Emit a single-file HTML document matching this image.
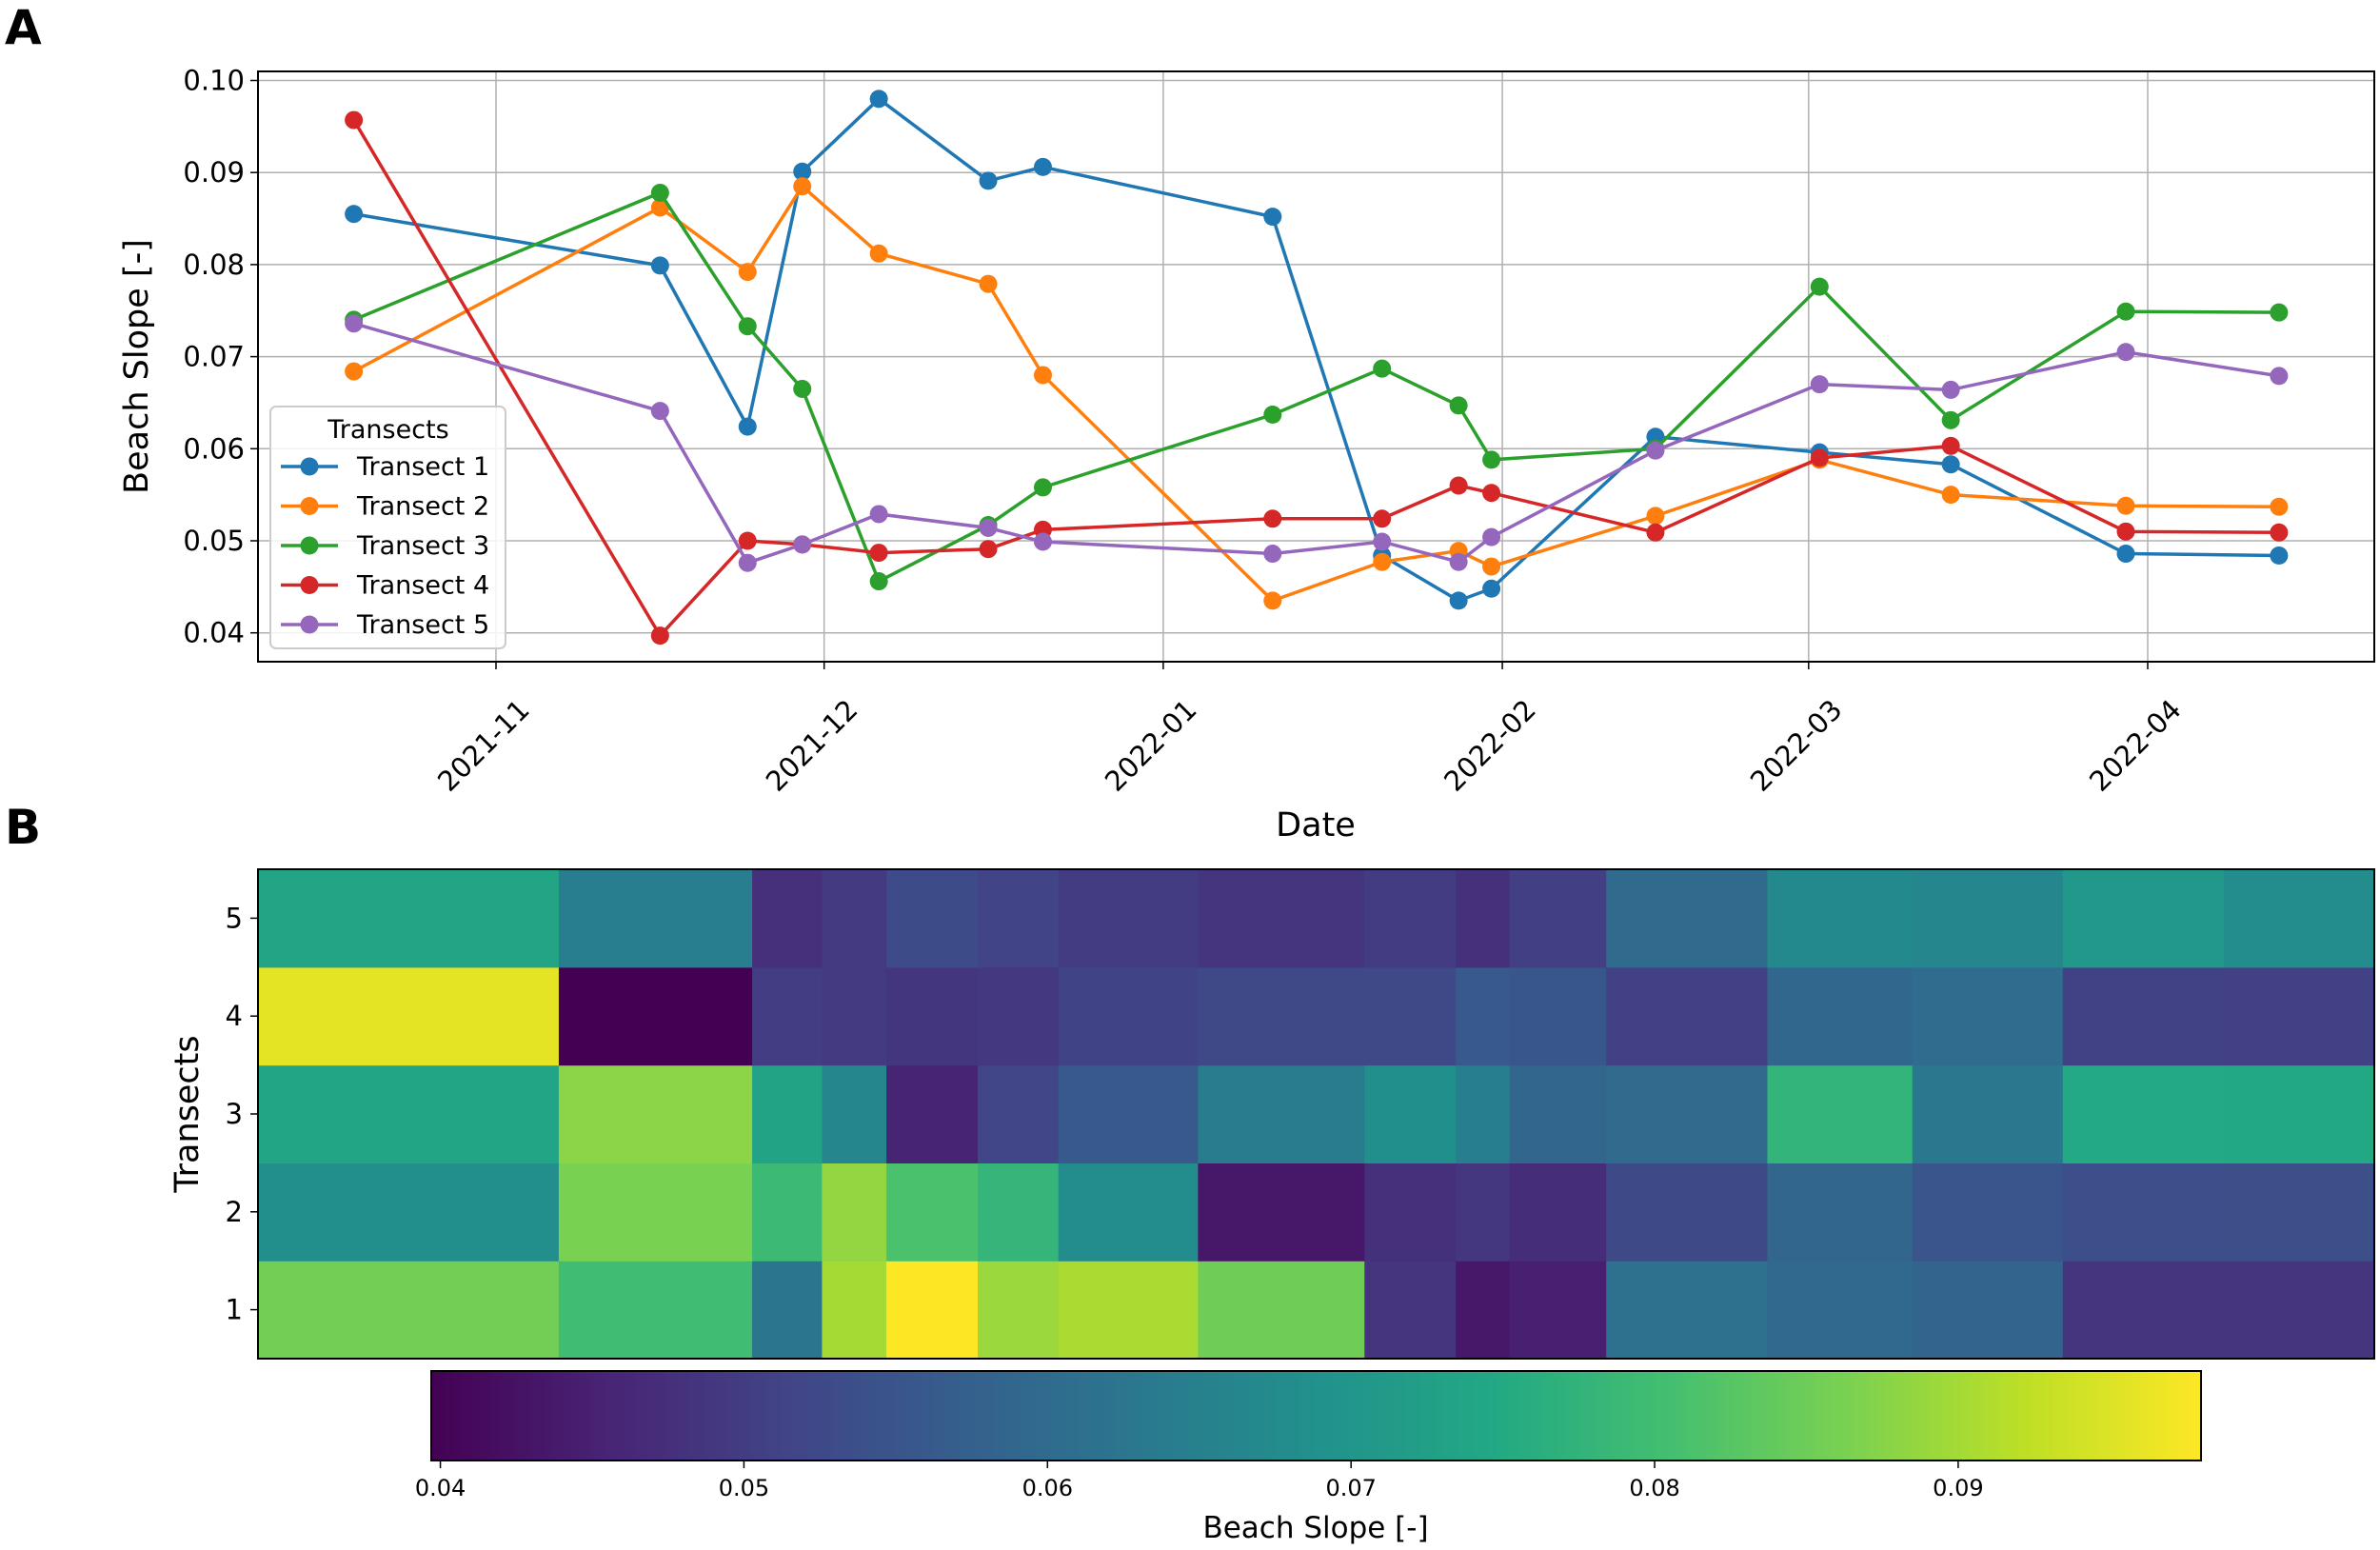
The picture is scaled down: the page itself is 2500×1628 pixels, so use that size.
<!DOCTYPE html>
<html><head><meta charset="utf-8"><style>
body{margin:0;background:#fff}
svg{display:block;font-family:"DejaVu Sans","Liberation Sans",sans-serif}
</style></head><body>
<svg id="chart" width="2500" height="1628" viewBox="0 0 2500 1628">
<g id="gA"></g>
<g id="gB"></g>
</svg>
<script>
const dates = ["2021-10-19","2021-11-16","2021-11-24","2021-11-29","2021-12-06","2021-12-16","2021-12-21","2022-01-11","2022-01-21","2022-01-28","2022-01-31","2022-02-15","2022-03-02","2022-03-14","2022-03-30","2022-04-13"];
const t1 = [0.0855,0.0799,0.0624,0.0901,0.0980,0.0891,0.0906,0.0852,0.0484,0.0435,0.0448,0.0613,0.0596,0.0583,0.0486,0.0484];
const t2 = [0.0684,0.0862,0.0792,0.0885,0.0812,0.0779,0.0680,0.0435,0.0477,0.0489,0.0472,0.0527,0.0588,0.0550,0.0538,0.0537];
const t3 = [0.0740,0.0878,0.0733,0.0665,0.0456,0.0517,0.0558,0.0637,0.0687,0.0647,0.0588,0.0600,0.0776,0.0631,0.0749,0.0748];
const t4 = [0.0957,0.0397,0.0500,0.0496,0.0487,0.0491,0.0512,0.0524,0.0524,0.0560,0.0552,0.0509,0.0590,0.0603,0.0510,0.0509];
const t5 = [0.0736,0.0641,0.0476,0.0496,0.0529,0.0514,0.0499,0.0486,0.0499,0.0477,0.0504,0.0598,0.0670,0.0664,0.0705,0.0679];
const seriesNames = ["Transect 1","Transect 2","Transect 3","Transect 4","Transect 5"];
const yTicks = [0.04,0.05,0.06,0.07,0.08,0.09,0.10];
const xTicks = ["2021-11-01","2021-12-01","2022-01-01","2022-02-01","2022-03-01","2022-04-01"];
const cbTicks = [0.04,0.05,0.06,0.07,0.08,0.09];
const rowLabels = ["1","2","3","4","5"];

const NS="http://www.w3.org/2000/svg";
function mk(tag,attrs,parent){const e=document.createElementNS(NS,tag);for(const k in attrs)e.setAttribute(k,attrs[k]);parent.appendChild(e);return e;}
const colors=["#1f77b4","#ff7f0e","#2ca02c","#d62728","#9467bd"];
const series=[t1,t2,t3,t4,t5];
const day=s=>Date.parse(s+"T00:00:00Z")/86400000;
const d0=day("2021-11-01");
const xA=s=>521+(day(s)-d0)*11.49;
const yA=v=>664.7-(v-0.04)*9670;
const gA=document.getElementById('gA'), gB=document.getElementById('gB'), svg=document.getElementById('chart');
const L=271,R=2494,T=75,B=695;

let t=mk('text',{x:5,y:46,'font-size':50,'font-weight':'bold'},svg);t.textContent="A";


t=mk('text',{x:5,y:886,'font-size':50,'font-weight':'bold'},svg);t.textContent="B";



yTicks.forEach(v=>{const y=yA(v);
 let g=mk('line',{x1:L,x2:R,y1:y,y2:y,stroke:'#b0b0b0','stroke-width':1.5},gA);
 
 
 mk('line',{x1:L-8,x2:L,y1:y,y2:y,stroke:'#000','stroke-width':1.5},gA);
 let tx=mk('text',{x:L-14,y:y+10,'font-size':29,'text-anchor':'end'},gA);tx.textContent=v.toFixed(2);
 
 
});
xTicks.forEach((s,i)=>{const x=xA(s);
 let g=mk('line',{x1:x,x2:x,y1:T,y2:B,stroke:'#b0b0b0','stroke-width':1.5},gA);
 
 
 mk('line',{x1:x,x2:x,y1:B,y2:B+8,stroke:'#000','stroke-width':1.5},gA);
 let tx=mk('text',{x:0,y:0,'font-size':29,'text-anchor':'middle',transform:`translate(${x-6},${790}) rotate(-45)`},gA);tx.textContent=s.slice(0,7);
 
 
});
series.forEach((arr,k)=>{
 const pts=arr.map((v,i)=>xA(dates[i])+","+yA(v)).join(" ");
 let pl=mk('polyline',{points:pts,fill:'none',stroke:colors[k],'stroke-width':3.5},gA);
 
 
 arr.forEach((v,i)=>{let c=mk('circle',{cx:xA(dates[i]),cy:yA(v),r:9.5,fill:colors[k]},gA);
  
  });
});
let fr=mk('rect',{x:L,y:T,width:R-L,height:B-T,fill:'none',stroke:'#000','stroke-width':2},gA);


t=mk('text',{x:0,y:0,'font-size':35,'text-anchor':'middle',transform:'translate(155,385) rotate(-90)'},gA);t.textContent="Beach Slope [-]";


t=mk('text',{x:1382,y:878,'font-size':35,'text-anchor':'middle'},gA);t.textContent="Date";


const lg=mk('g',{},gA);


mk('rect',{x:284,y:427,width:247,height:254,rx:6,fill:'#fff','fill-opacity':0.85,stroke:'#ccc','stroke-width':2},lg);
t=mk('text',{x:408,y:460,'font-size':27,'text-anchor':'middle'},lg);t.textContent="Transects";


seriesNames.forEach((n,k)=>{const y=490+k*41.5;
 const e=mk('g',{},lg);
 
 
 mk('line',{x1:295,x2:355,y1:y,y2:y,stroke:colors[k],'stroke-width':3.5},e);
 mk('circle',{cx:325,cy:y,r:9.5,fill:colors[k]},e);
 const tt=mk('text',{x:375,y:y+9,'font-size':27},e);tt.textContent=n;
});

const vir=[[68,1,84],[72,36,117],[65,68,135],[53,95,141],[42,120,142],[33,145,140],[34,168,132],[68,191,112],[122,209,81],[189,223,38],[253,231,37]];
function cmap(f){f=Math.max(0,Math.min(1,f))*10;const i=Math.min(9,Math.floor(f)),r=f-i;const a=vir[i],b=vir[i+1];
 return `rgb(${a.map((c,j)=>Math.round(c+(b[j]-c)*r)).join(',')})`;}
const allv=series.flat();const vmin=Math.min(...allv),vmax=Math.max(...allv);
const HL=271,HR=2494,HT=913,HB=1427;
const dd=dates.map(day);
const edges=[];edges.push(dd[0]-(dd[1]-dd[0])/2);
for(let i=0;i<dd.length-1;i++)edges.push((dd[i]+dd[i+1])/2);
edges.push(dd[dd.length-1]+(dd[dd.length-1]-dd[dd.length-2])/2);
const xH=d=>HL+(d-edges[0])/(edges[edges.length-1]-edges[0])*(HR-HL);
const rh=(HB-HT)/5;
series.forEach((arr,k)=>{const y=HB-(k+1)*rh;
 arr.forEach((v,i)=>{const x1=xH(edges[i]),x2=xH(edges[i+1]);
  let r=mk('rect',{x:x1,y:y,width:x2-x1+0.6,height:rh+0.6,fill:cmap((v-vmin)/(vmax-vmin))},gB);
  
  
 });
 const yc=y+rh/2;
 mk('line',{x1:HL-8,x2:HL,y1:yc,y2:yc,stroke:'#000','stroke-width':1.5},gB);
 let tx=mk('text',{x:HL-16,y:yc+10,'font-size':29,'text-anchor':'end'},gB);tx.textContent=rowLabels[k];
 
 
});
fr=mk('rect',{x:HL,y:HT,width:HR-HL,height:HB-HT,fill:'none',stroke:'#000','stroke-width':2},gB);


t=mk('text',{x:0,y:0,'font-size':35,'text-anchor':'middle',transform:'translate(208,1170) rotate(-90)'},gB);t.textContent="Transects";


const CL=453,CR=2312,CT=1440,CB=1534;
const defs=mk('defs',{},svg);const lgr=mk('linearGradient',{id:'vg',x1:0,x2:1,y1:0,y2:0},defs);
vir.forEach((c,i)=>mk('stop',{offset:i/10,'stop-color':`rgb(${c.join(',')})`},lgr));
let cb=mk('rect',{x:CL,y:CT,width:CR-CL,height:CB-CT,fill:'url(#vg)',stroke:'#000','stroke-width':2},gB);


const xC=v=>CL+(v-vmin)/(vmax-vmin)*(CR-CL);
cbTicks.forEach(v=>{const x=xC(v);
 mk('line',{x1:x,x2:x,y1:CB,y2:CB+8,stroke:'#000','stroke-width':1.5},gB);
 let tx=mk('text',{x:x,y:1571,'font-size':24,'text-anchor':'middle'},gB);tx.textContent=v.toFixed(2);
 
 
});
t=mk('text',{x:1382,y:1615,'font-size':31,'text-anchor':'middle'},gB);t.textContent="Beach Slope [-]";


</script>
</body></html>
